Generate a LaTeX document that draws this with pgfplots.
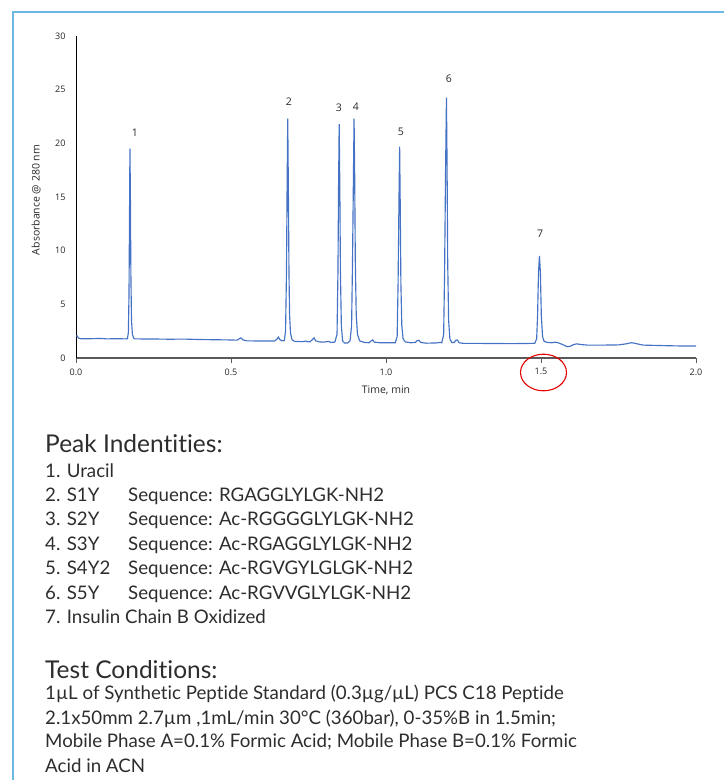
\documentclass[border=0pt]{standalone}
\usepackage{fontspec}
\usepackage{pgfplots}
\pgfplotsset{compat=1.18}
\newfontfamily\chartfont{Open Sans}
\newfontfamily\bodyfont[Ligatures={NoCommon,NoRare,NoDiscretionary}]{Lato}
\definecolor{lineblue}{RGB}{68,114,196}
\definecolor{borderblue}{RGB}{110,185,228}
\definecolor{txt}{RGB}{45,45,45}
\begin{document}
\begin{tikzpicture}[x=1pt,y=1pt]
\useasboundingbox (0,0) rectangle (724,780);
\draw[borderblue, line width=1.6pt] (724,768) -- (13,768) -- (13,0);
\begin{axis}[
  at={(76pt,422pt)}, anchor=south west, scale only axis,
  width=620pt, height=322pt,
  xmin=0, xmax=2, ymin=0, ymax=30,
  axis lines*=left,
  x axis line style={draw=black!65, line width=1.6pt},
  y axis line style={draw=black, line width=0.9pt},
  xtick={0,0.5,1,1.5,2}, xticklabels={0.0,0.5,1.0,1.5,2.0},
  ytick={0,5,10,15,20,25,30}, yticklabels={0,5,10,15,20,25,30},
  tick align=outside, major tick length=5pt,
  xtick style={draw=black!65, line width=1pt},
  ytick style={draw=none},
  tick label style={font=\chartfont\fontsize{9}{10}\selectfont, text=black!85},
  xticklabel style={yshift=-2pt},
  yticklabel style={xshift=-2pt},
  clip=false,
]
\addplot[lineblue, line width=1.15pt, no marks] coordinates {
(0.000,2.05) (0.004,2.05) (0.008,1.85) (0.015,1.80) (0.05,1.80) (0.08,1.82) (0.10,1.78) (0.13,1.80)
(0.160,1.78) (0.166,1.80) (0.169,2.4) (0.171,6) (0.173,15) (0.174,19.5) (0.1755,15) (0.177,8)
(0.179,3.5) (0.182,2.2) (0.186,1.85) (0.19,1.78) (0.25,1.77) (0.30,1.75) (0.35,1.76) (0.40,1.72)
(0.45,1.70) (0.50,1.68) (0.52,1.66) (0.527,1.80) (0.532,1.88) (0.538,1.70) (0.55,1.60) (0.60,1.58)
(0.64,1.58) (0.648,1.75) (0.653,1.95) (0.658,1.70) (0.665,1.60) (0.672,1.62) (0.676,2.5) (0.679,8)
(0.681,16) (0.683,22.3) (0.685,16) (0.687,8) (0.689,4) (0.692,2.3) (0.697,1.7) (0.705,1.55)
(0.73,1.52) (0.742,1.58) (0.748,1.50) (0.755,1.52) (0.763,1.72) (0.768,1.88) (0.773,1.60) (0.785,1.50)
(0.80,1.48) (0.815,1.55) (0.822,1.45) (0.835,1.48) (0.842,2.2) (0.845,8) (0.847,16) (0.849,21.8)
(0.851,16) (0.853,8) (0.856,3) (0.86,1.6) (0.866,1.4) (0.876,1.4) (0.884,1.6) (0.889,3)
(0.892,9) (0.895,17) (0.897,22.3) (0.899,17) (0.901,9) (0.904,4) (0.908,2.2) (0.915,1.6)
(0.93,1.45) (0.945,1.42) (0.952,1.58) (0.957,1.68) (0.962,1.48) (0.98,1.42) (1.00,1.42) (1.03,1.42)
(1.036,2.0) (1.039,7) (1.042,15) (1.044,19.7) (1.046,14) (1.048,7) (1.051,3) (1.055,1.8)
(1.062,1.5) (1.08,1.42) (1.095,1.45) (1.100,1.62) (1.106,1.65) (1.112,1.45) (1.13,1.38) (1.16,1.40)
(1.175,1.45) (1.180,1.42) (1.186,2.2) (1.189,8) (1.192,17) (1.195,24.25) (1.197,18) (1.199,9)
(1.202,3.5) (1.206,1.8) (1.212,1.45) (1.220,1.45) (1.225,1.65) (1.230,1.68) (1.236,1.42) (1.25,1.36)
(1.30,1.36) (1.35,1.35) (1.40,1.34) (1.45,1.35) (1.48,1.37) (1.486,1.8) (1.489,4) (1.492,8)
(1.495,9.5) (1.498,8) (1.501,4) (1.505,2) (1.51,1.55) (1.52,1.45) (1.535,1.42) (1.545,1.48)
(1.555,1.42) (1.57,1.25) (1.585,1.05) (1.595,1.10) (1.605,1.25) (1.615,1.32) (1.63,1.25) (1.65,1.20)
(1.70,1.20) (1.75,1.22) (1.775,1.32) (1.792,1.43) (1.81,1.32) (1.83,1.20) (1.90,1.15) (1.95,1.12)
(2.00,1.12)
};
\begin{scope}[every node/.style={font=\chartfont\fontsize{10.5}{11}\selectfont, text=black!85}]
\node at (axis cs:0.190,21.0) {1};
\node at (axis cs:0.687,23.9) {2};
\node at (axis cs:0.848,23.3) {3};
\node at (axis cs:0.903,23.4) {4};
\node at (axis cs:1.048,21.1) {5};
\node at (axis cs:1.203,26.0) {6};
\node at (axis cs:1.497,11.6) {7};
\end{scope}
\end{axis}
% axis titles
\node[rotate=90, font=\chartfont\fontsize{10.5}{11}\selectfont, text=black!85] at (36,580) {Absorbance @ 280 nm};
\node[anchor=base, font=\chartfont\fontsize{10.5}{11}\selectfont, text=black!85] at (386,386) {Time, min};
% red circle
\draw[red!90!black, line width=1.1pt] (543.5,407.5) ellipse [x radius=23, y radius=18.3];
% text block
\begin{scope}[every node/.style={anchor=base west, inner sep=0pt, text=txt}]
\node[font=\bodyfont\fontsize{24.5}{25}\selectfont] at (45,327) {Peak Indentities:};
\node[font=\bodyfont\fontsize{18.7}{19}\selectfont] at (45,302.7) {1. Uracil};
\node[font=\bodyfont\fontsize{18.7}{19}\selectfont] at (45,278.3) {2. S1Y};
\node[font=\bodyfont\fontsize{18.7}{19}\selectfont] at (128,278.3) {Sequence: RGAGGLYLGK-NH2};
\node[font=\bodyfont\fontsize{18.7}{19}\selectfont] at (45,254) {3. S2Y};
\node[font=\bodyfont\fontsize{18.7}{19}\selectfont] at (128,254) {Sequence: Ac-RGGGGLYLGK-NH2};
\node[font=\bodyfont\fontsize{18.7}{19}\selectfont] at (45,229.3) {4. S3Y};
\node[font=\bodyfont\fontsize{18.7}{19}\selectfont] at (128,229.3) {Sequence: Ac-RGAGGLYLGK-NH2};
\node[font=\bodyfont\fontsize{18.7}{19}\selectfont] at (45,205) {5. S4Y2};
\node[font=\bodyfont\fontsize{18.7}{19}\selectfont] at (128,205) {Sequence: Ac-RGVGYLGLGK-NH2};
\node[font=\bodyfont\fontsize{18.7}{19}\selectfont] at (45,180.7) {6. S5Y};
\node[font=\bodyfont\fontsize{18.7}{19}\selectfont] at (128,180.7) {Sequence: Ac-RGVVGLYLGK-NH2};
\node[font=\bodyfont\fontsize{18.7}{19}\selectfont] at (45,156.3) {7. Insulin Chain B Oxidized};
\node[font=\bodyfont\fontsize{24.5}{25}\selectfont] at (45,101) {Test Conditions:};
\node[font=\bodyfont\fontsize{18.7}{19}\selectfont] at (45,80) {1µL of Synthetic Peptide Standard (0.3µg/µL) PCS C18 Peptide};
\node[font=\bodyfont\fontsize{18.7}{19}\selectfont] at (45,56) {2.1x50mm 2.7µm ,1mL/min 30°C (360bar), 0-35\%B in 1.5min;};
\node[font=\bodyfont\fontsize{18.7}{19}\selectfont] at (45,32) {Mobile Phase A=0.1\% Formic Acid; Mobile Phase B=0.1\% Formic};
\node[font=\bodyfont\fontsize{18.7}{19}\selectfont] at (45,8) {Acid in ACN};
\end{scope}
\end{tikzpicture}
\end{document}
